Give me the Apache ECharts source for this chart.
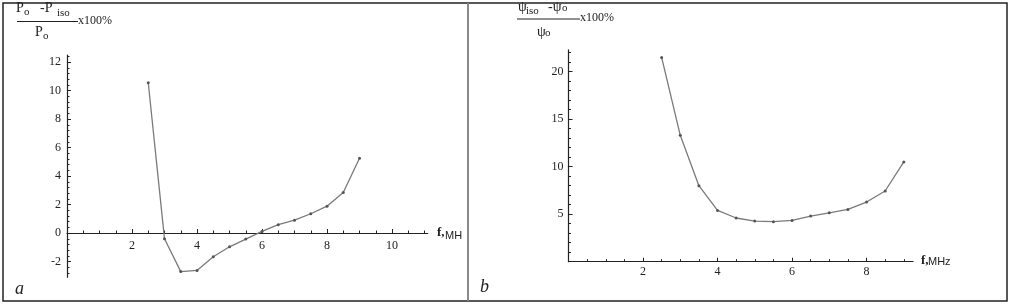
<!DOCTYPE html>
<html>
<head>
<meta charset="utf-8">
<script src="https://cdn.jsdelivr.net/npm/echarts@6/dist/echarts.min.js"></script>
<style>
html,body{margin:0;padding:0;background:#fff;}
#c{width:1011px;height:306px;}
</style>
</head>
<body>
<div id="c"></div>
<script>
// ---- data ----
var freq = [2.5, 3, 3.5, 4, 4.5, 5, 5.5, 6, 6.5, 7, 7.5, 8, 8.5, 9];
var powerDev = [10.55, -0.4, -2.7, -2.62, -1.66, -0.96, -0.42, 0.12, 0.59, 0.91, 1.36, 1.89, 2.85, 5.26];
var phaseDev = [21.5, 13.3, 8.0, 5.4, 4.6, 4.28, 4.21, 4.35, 4.8, 5.15, 5.5, 6.28, 7.44, 10.5];

var xTicksA = [2, 4, 6, 8, 10];
var yTicksA = [-2, 0, 2, 4, 6, 8, 10, 12];
var xTicksB = [2, 4, 6, 8];
var yTicksB = [5, 10, 15, 20];

function range(a, b, step) {
  var out = [];
  for (var v = a; v <= b + 1e-9; v += step) out.push(Math.round(v * 1000) / 1000);
  return out;
}
var xMinorA = range(0.5, 11, 0.5);
var yMinorA = range(-2.8, 12.4, 0.4);
var xMinorB = range(0.5, 9, 0.5);
var yMinorB = range(1, 22, 1);

var serif = '"Liberation Serif", "DejaVu Serif", serif';
var sans = '"Liberation Sans", "DejaVu Sans", sans-serif';
var axisColor = '#222';

function labeledAxis(gridIndex, min, max, position, ticks, margin) {
  return {
    type: 'value', gridIndex: gridIndex, min: min, max: max, position: position,
    axisLine: { show: true, onZero: false, lineStyle: { color: axisColor, width: 1.2 } },
    axisTick: { show: true, inside: true, length: 4, customValues: ticks, lineStyle: { color: axisColor, width: 1 } },
    axisLabel: { show: true, color: '#222', fontFamily: serif, fontSize: 12, margin: margin, customValues: ticks },
    splitLine: { show: false }
  };
}
function minorAxis(gridIndex, min, max, position, ticks) {
  return {
    type: 'value', gridIndex: gridIndex, min: min, max: max, position: position,
    axisLine: { show: false, onZero: false },
    axisTick: { show: true, inside: true, length: 2.5, customValues: ticks, lineStyle: { color: axisColor, width: 1 } },
    axisLabel: { show: false },
    splitLine: { show: false }
  };
}
function hiddenAxis(gridIndex, min, max, position) {
  return { type: 'value', gridIndex: gridIndex, min: min, max: max, position: position, show: false,
    axisLine: { onZero: false }, splitLine: { show: false } };
}

var chart = echarts.init(document.getElementById('c'), null, { renderer: 'canvas' });

var seriesStyle = {
  type: 'line',
  symbol: 'circle',
  symbolSize: 3,
  itemStyle: { color: '#555' },
  lineStyle: { color: '#7a7a7a', width: 1.3 },
  animation: false
};

chart.setOption({
  animation: false,
  grid: [
    { left: 67, top: 55, width: 360.75, height: 222.3 },     // panel a: data + y axis
    { left: 568.5, top: 49.85, width: 344.6, height: 211.85 }, // panel b
    { left: 67, top: 55, width: 360.75, height: 178 }        // panel a: x axis at y = 0
  ],
  xAxis: [
    hiddenAxis(0, 0, 11.1, 'bottom'),
    labeledAxis(1, 0, 9.25, 'bottom', xTicksB, 4),
    minorAxis(1, 0, 9.25, 'bottom', xMinorB),
    labeledAxis(2, 0, 11.1, 'bottom', xTicksA, 7),
    minorAxis(2, 0, 11.1, 'bottom', xMinorA)
  ],
  yAxis: [
    labeledAxis(0, -3.1, 12.5, 'left', yTicksA, 6),
    minorAxis(0, -3.1, 12.5, 'left', yMinorA),
    labeledAxis(1, 0, 22.3, 'left', yTicksB, 5),
    minorAxis(1, 0, 22.3, 'left', yMinorB),
    hiddenAxis(2, 0, 1, 'left')
  ],
  series: [
    Object.assign({}, seriesStyle, { xAxisIndex: 0, yAxisIndex: 0,
      data: freq.map(function (f, i) { return [f, powerDev[i]]; }) }),
    Object.assign({}, seriesStyle, { xAxisIndex: 1, yAxisIndex: 2,
      data: freq.map(function (f, i) { return [f, phaseDev[i]]; }) })
  ],
  graphic: [
    { type: 'rect', shape: { x: 3, y: 3, width: 1004, height: 298 }, style: { fill: 'none', stroke: '#222', lineWidth: 1.5 }, silent: true },
    { type: 'line', shape: { x1: 468, y1: 3, x2: 468, y2: 301 }, style: { stroke: '#888', lineWidth: 2 }, silent: true },
    // left title fraction
    { type: 'text', x: 16, y: 1, style: { text: 'P', font: '14px ' + serif, fill: '#222' } },
    { type: 'text', x: 24, y: 7, style: { text: 'o', font: '11px ' + serif, fill: '#222' } },
    { type: 'text', x: 40, y: 1, style: { text: '-P', font: '14px ' + serif, fill: '#222' } },
    { type: 'text', x: 57, y: 8, style: { text: 'iso', font: '11px ' + serif, fill: '#222' } },
    { type: 'line', shape: { x1: 17, y1: 21.5, x2: 78, y2: 21.5 }, style: { stroke: '#222', lineWidth: 1 } },
    { type: 'text', x: 78, y: 15, style: { text: 'x100%', font: '12px ' + serif, fill: '#222' } },
    { type: 'text', x: 35, y: 25, style: { text: 'P', font: '14px ' + serif, fill: '#222' } },
    { type: 'text', x: 43, y: 31, style: { text: 'o', font: '11px ' + serif, fill: '#222' } },
    // right title fraction
    { type: 'text', x: 518, y: 0, style: { text: 'ψ', font: '14px ' + serif, fill: '#222' } },
    { type: 'text', x: 526, y: 6, style: { text: 'iso', font: '11px ' + serif, fill: '#222' } },
    { type: 'text', x: 548, y: 0, style: { text: '-ψ', font: '14px ' + serif, fill: '#222' } },
    { type: 'text', x: 562, y: 3, style: { text: 'o', font: '11px ' + serif, fill: '#222' } },
    { type: 'line', shape: { x1: 517, y1: 19, x2: 580, y2: 19 }, style: { stroke: '#222', lineWidth: 1 } },
    { type: 'text', x: 580, y: 12, style: { text: 'x100%', font: '12px ' + serif, fill: '#222' } },
    { type: 'text', x: 537, y: 25, style: { text: 'ψ', font: '14px ' + serif, fill: '#222' } },
    { type: 'text', x: 545, y: 28, style: { text: 'o', font: '11px ' + serif, fill: '#222' } },
    // axis names
    { type: 'text', x: 437, y: 226, style: { text: 'f,', font: 'bold 13px ' + serif, fill: '#222' } },
    { type: 'text', x: 445, y: 230, style: { text: 'MH', font: '11px ' + sans, fill: '#222' } },
    { type: 'text', x: 921, y: 254, style: { text: 'f,', font: 'bold 13px ' + serif, fill: '#222' } },
    { type: 'text', x: 928, y: 256, style: { text: 'MHz', font: '11px ' + sans, fill: '#222' } },
    // panel letters
    { type: 'text', x: 15, y: 280, style: { text: 'a', font: 'italic 18px ' + serif, fill: '#222' } },
    { type: 'text', x: 480, y: 278, style: { text: 'b', font: 'italic 18px ' + serif, fill: '#222' } }
  ]
});
</script>
</body>
</html>
